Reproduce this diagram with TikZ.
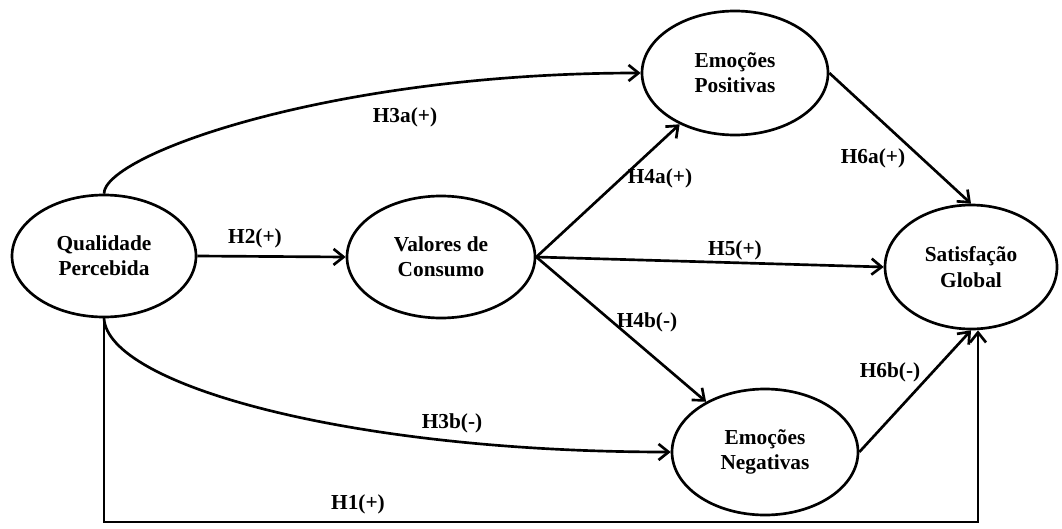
\documentclass[tikz,border=0pt]{standalone}
\usepackage{fontspec}
\setmainfont{Liberation Serif}
\usetikzlibrary{shapes.geometric,arrows.meta}
\begin{document}
\begin{tikzpicture}[x=0.75pt,y=-0.75pt,
  every node/.style={font=\bfseries\fontsize{16}{19}\selectfont},
  construct/.style={ellipse,draw,line width=2pt,inner sep=0pt,align=center},
  lbl/.style={inner sep=0pt},
  arr/.style={line width=2pt,-{Straight Barb[length=7.5pt,width=12pt,line width=2pt]}}]
\useasboundingbox (0,0) rectangle (1062,528);
\node[construct,minimum width=138pt,minimum height=91.5pt] (Q) at (104,256) {Qualidade\\Percebida};
\node[construct,minimum width=141pt,minimum height=91.5pt] (V) at (441,257) {Valores de\\Consumo};
\node[construct,minimum width=139.5pt,minimum height=93pt] (P) at (735,73) {Emoções\\Positivas};
\node[construct,minimum width=139.5pt,minimum height=94.5pt] (N) at (765,452) {Emoções\\Negativas};
\node[construct,minimum width=129pt,minimum height=93pt] (S) at (971,267) {Satisfação\\Global};
\coordinate (c1) at (104,522);
\coordinate (c2) at (978,522);
\draw[arr] (Q.east) -- (V.west);
\draw[arr] (Q.north) .. controls (104,155) and (330,73) .. (P.west);
\draw[arr] (Q.south) .. controls (108,385) and (350,452) .. (N.west);
\draw[arr] (Q.south) -- (c1) -- (c2) -- (S.south -| c2);
\draw[arr] (V.east) -- (P);
\draw[arr] (V.east) -- (N);
\draw[arr] (V.east) -- (S.west);
\draw[arr] (P.east) -- (S.north);
\draw[arr] (N.east) -- (S.south);
\node[lbl] (l2) at (255,238) {H2(+)};
\node[lbl] (l3a) at (405,117) {H3a(+)};
\node[lbl] (l4a) at (660,178) {H4a(+)};
\node[lbl] (l5) at (735,250) {H5(+)};
\node[lbl] (l4b) at (647,322) {H4b(-)};
\node[lbl] (l6a) at (873,158) {H6a(+)};
\node[lbl] (l6b) at (890,372) {H6b(-)};
\node[lbl] (l3b) at (452,423) {H3b(-)};
\node[lbl] (l1) at (358,504) {H1(+)};
\end{tikzpicture}
\end{document}
